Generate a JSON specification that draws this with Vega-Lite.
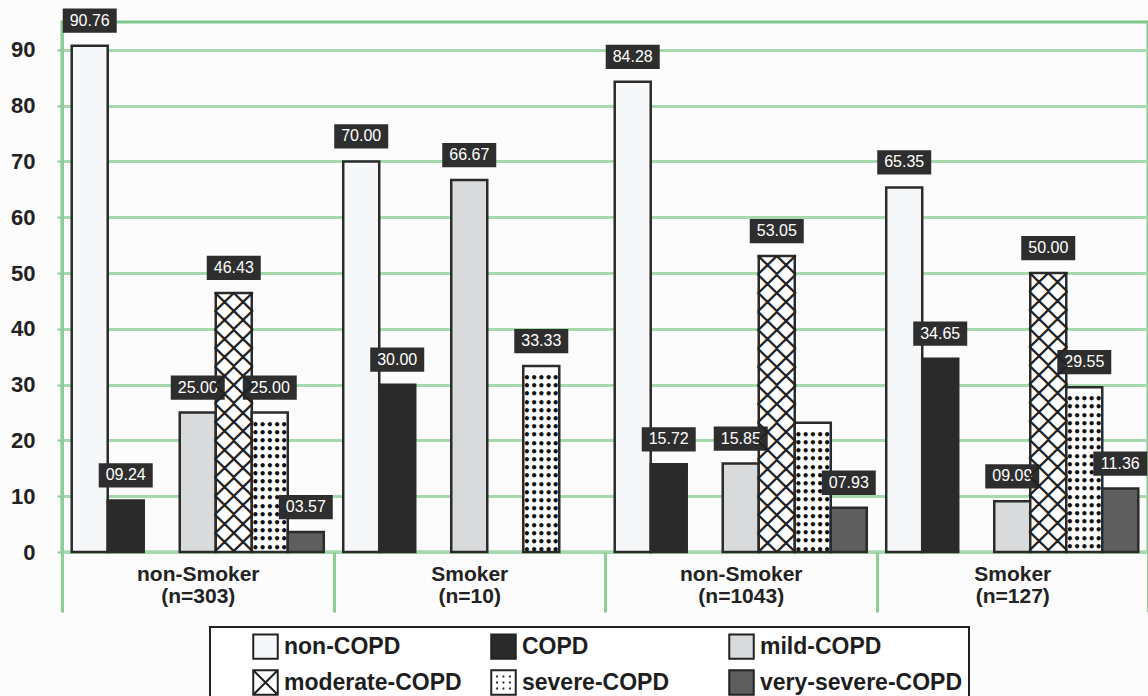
{
  "$schema": "https://vega.github.io/schema/vega-lite/v6.json",
  "width": 1086,
  "height": 530,
  "autosize": {"type": "none"},
  "padding": {"left": 62, "top": 22, "right": 0, "bottom": 144},
  "background": "#fcfcfc",
  "config": {
    "font": "Liberation Sans",
    "view": {"stroke": "#7fc78a", "strokeWidth": 3}
  },
  "data": {
    "values": [
      {"group": "non-Smoker (n=303)", "type": "non-COPD", "value": 90.76},
      {"group": "non-Smoker (n=303)", "type": "COPD", "value": 9.24},
      {"group": "non-Smoker (n=303)", "type": "mild-COPD", "value": 25.00},
      {"group": "non-Smoker (n=303)", "type": "moderate-COPD", "value": 46.43},
      {"group": "non-Smoker (n=303)", "type": "severe-COPD", "value": 25.00},
      {"group": "non-Smoker (n=303)", "type": "very-severe-COPD", "value": 3.57},
      {"group": "Smoker (n=10)", "type": "non-COPD", "value": 70.00},
      {"group": "Smoker (n=10)", "type": "COPD", "value": 30.00},
      {"group": "Smoker (n=10)", "type": "mild-COPD", "value": 66.67},
      {"group": "Smoker (n=10)", "type": "severe-COPD", "value": 33.33},
      {"group": "non-Smoker (n=1043)", "type": "non-COPD", "value": 84.28},
      {"group": "non-Smoker (n=1043)", "type": "COPD", "value": 15.72},
      {"group": "non-Smoker (n=1043)", "type": "mild-COPD", "value": 15.85},
      {"group": "non-Smoker (n=1043)", "type": "moderate-COPD", "value": 53.05},
      {"group": "non-Smoker (n=1043)", "type": "severe-COPD", "value": 23.17},
      {"group": "non-Smoker (n=1043)", "type": "very-severe-COPD", "value": 7.93},
      {"group": "Smoker (n=127)", "type": "non-COPD", "value": 65.35},
      {"group": "Smoker (n=127)", "type": "COPD", "value": 34.65},
      {"group": "Smoker (n=127)", "type": "mild-COPD", "value": 9.09},
      {"group": "Smoker (n=127)", "type": "moderate-COPD", "value": 50.00},
      {"group": "Smoker (n=127)", "type": "severe-COPD", "value": 29.55},
      {"group": "Smoker (n=127)", "type": "very-severe-COPD", "value": 11.36}
    ]
  },
  "encoding": {
    "x": {
      "field": "group",
      "type": "nominal",
      "sort": ["non-Smoker (n=303)", "Smoker (n=10)", "non-Smoker (n=1043)", "Smoker (n=127)"],
      "scale": {"paddingInner": 0, "paddingOuter": 0},
      "axis": {
        "title": null,
        "labelAngle": 0,
        "labelExpr": "split(datum.label, ' ')",
        "labelFontSize": 21,
        "labelFontWeight": "bold",
        "labelColor": "#222222",
        "labelLineHeight": 22,
        "labelBaseline": "top",
        "labelPadding": -49,
        "tickBand": "extent",
        "tickSize": 60,
        "tickColor": "#8fcd98",
        "tickWidth": 3,
        "domain": false
      }
    },
    "xOffset": {
      "field": "type",
      "type": "nominal",
      "scale": {
        "domain": ["non-COPD", "COPD", "gap", "mild-COPD", "moderate-COPD", "severe-COPD", "very-severe-COPD"],
        "paddingInner": 0,
        "paddingOuter": 0.27
      }
    },
    "y": {
      "field": "value",
      "type": "quantitative",
      "scale": {"domain": [0, 95], "nice": false},
      "axis": {
        "title": null,
        "values": [0, 10, 20, 30, 40, 50, 60, 70, 80, 90],
        "labelFontSize": 22,
        "labelFontWeight": "bold",
        "labelColor": "#222222",
        "labelPadding": 22,
        "gridColor": "#a6d9ad",
        "gridWidth": 3,
        "gridOpacity": 1,
        "domainColor": "#8fcd98",
        "domainWidth": 3,
        "tickColor": "#8fcd98",
        "tickSize": 5,
        "tickWidth": 2
      }
    }
  },
  "layer": [
    {
      "mark": {"type": "bar", "stroke": "#2b2b2b", "strokeWidth": 2.5},
      "encoding": {
        "color": {
          "field": "type",
          "type": "nominal",
          "scale": {
            "domain": ["non-COPD", "COPD", "mild-COPD", "moderate-COPD", "severe-COPD", "very-severe-COPD"],
            "range": ["#f6f7f9", "#2a2a2a", "#d9dadc", "#ffffff", "#ffffff", "#5e5e5e"]
          },
          "legend": {
            "orient": "none",
            "legendX": 148,
            "legendY": 605,
            "direction": "horizontal",
            "columns": 3,
            "gridAlign": "all",
            "title": " ",
            "titleOrient": "left",
            "titlePadding": 36,
            "padding": 6,
            "fillColor": "#ffffff",
            "strokeColor": "#222222",
            "columnPadding": 0,
            "rowPadding": 3,
            "symbolType": "square",
            "symbolSize": 600,
            "symbolStrokeColor": "#222222",
            "symbolStrokeWidth": 2,
            "labelFont": "Liberation Sans",
            "labelFontSize": 23,
            "labelFontWeight": "bold",
            "labelColor": "#1e1e1e",
            "labelOffset": 5,
            "labelLimit": 400,
            "encode": {
              "legend": {"update": {"strokeWidth": {"value": 2}}},
              "symbols": {
                "update": {
                  "shape": {"signal": "datum.value == 'moderate-COPD' ? 'M-1,-1H1V1H-1Z M-1,-1L1,1 M1,-1L-1,1' : datum.value == 'severe-COPD' ? 'M-1,-1H1V1H-1Z M-0.6,-0.5h0.15 M-0.08,-0.5h0.15 M0.45,-0.5h0.15 M-0.6,0h0.15 M-0.08,0h0.15 M0.45,0h0.15 M-0.6,0.5h0.15 M-0.08,0.5h0.15 M0.45,0.5h0.15' : 'square'"}
                }
              }
            }
          }
        }
      }
    },
    {
      "transform": [{"filter": "datum.type == 'severe-COPD'"}],
      "mark": {
        "type": "text",
        "clip": true,
        "font": "DejaVu Sans Mono",
        "fontSize": 12,
        "fontWeight": "bold",
        "lineHeight": 8.2,
        "align": "center",
        "baseline": "top",
        "dy": 7,
        "color": "#111111",
        "text": ["•••••","•••••","•••••","•••••","•••••","•••••","•••••","•••••","•••••","•••••","•••••","•••••","•••••","•••••","•••••","•••••","•••••","•••••","•••••","•••••","•••••","•••••","•••••","•••••","•••••","•••••","•••••","•••••","•••••","•••••","•••••","•••••","•••••","•••••","•••••","•••••","•••••","•••••","•••••","•••••","•••••","•••••","•••••","•••••","•••••","•••••","•••••","•••••","•••••","•••••"]
      }
    },
    {
      "transform": [{"filter": "!(datum.group == 'non-Smoker (n=1043)' && datum.type == 'severe-COPD')"}],
      "mark": {
        "type": "point",
        "shape": "M-1,-0.45H1V0.45H-1Z",
        "size": 2916,
        "filled": true,
        "color": "#2e2e2e",
        "opacity": 1,
        "yOffset": -25
      }
    },
    {
      "transform": [{"filter": "!(datum.group == 'non-Smoker (n=1043)' && datum.type == 'severe-COPD')"}],
      "mark": {
        "type": "text",
        "color": "#ffffff",
        "font": "Liberation Sans",
        "fontSize": 16,
        "baseline": "middle",
        "align": "center",
        "dy": -25
      },
      "encoding": {
        "text": {"field": "value", "type": "quantitative", "format": "05.2f"}
      }
    },
    {
      "transform": [{"filter": "datum.type == 'moderate-COPD'"}],
      "mark": {
        "type": "text",
        "clip": true,
        "font": "Noto Sans CJK SC",
        "fontSize": 18.5,
        "fontWeight": "bold",
        "lineHeight": 18.5,
        "align": "center",
        "baseline": "top",
        "dy": 1,
        "color": "#222222",
        "stroke": "#222222",
        "strokeWidth": 1.6,
        "text": ["╳╳","╳╳","╳╳","╳╳","╳╳","╳╳","╳╳","╳╳","╳╳","╳╳","╳╳","╳╳","╳╳","╳╳","╳╳","╳╳","╳╳","╳╳","╳╳","╳╳","╳╳","╳╳","╳╳","╳╳","╳╳","╳╳","╳╳","╳╳","╳╳","╳╳"]
      }
    }
  ]
}
